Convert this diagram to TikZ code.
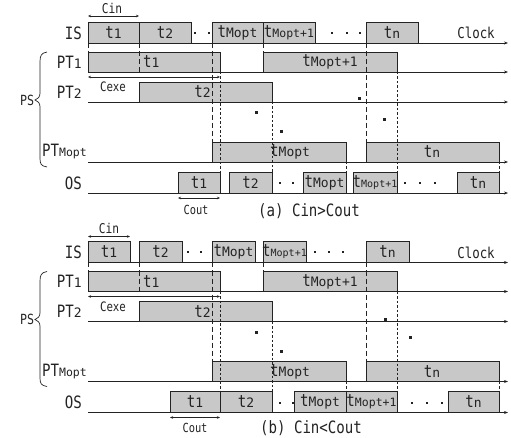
\documentclass[tikz,border=0pt]{standalone}
\usepackage{fontspec}
\setmainfont{DejaVu Sans Mono}[FakeStretch=0.83]
\newfontfamily\subfont{DejaVu Sans Mono}
\usetikzlibrary{arrows.meta}
\definecolor{boxgray}{RGB}{200,200,200}
\definecolor{ink}{RGB}{35,35,35}
\newcommand\fsz[1]{\fontsize{#1}{#1}\selectfont}
\newcommand\subt[1]{{\subfont\fsz{13pt}#1}}
\newcommand\subs[1]{{\subfont\fsz{10pt}#1}}
\newcommand\subm[1]{{\subfont\fsz{11.5pt}#1}}
\newcommand\bx[5]{\node[boxn, minimum width={(#3-#2)*1pt}, minimum height={(#5-#4)*1pt}] (#1) at ({(#2+#3)/2},{(#4+#5)/2}) {};}
\tikzset{
  boxn/.style={draw=ink, fill=boxgray, line width=0.8pt, inner sep=0pt, outer sep=0pt},
  btxt/.style={inner sep=0pt, font=\fsz{17pt}, text=ink},
  lab/.style={inner sep=0pt, font=\fsz{17pt}, text=ink},
  axisln/.style={draw=ink, line width=0.8pt, -{Stealth[length=4pt,width=3pt]}},
  ldash/.style={draw=ink, line width=0.7pt, dash pattern=on 5pt off 3pt},
  sdash/.style={draw=ink, line width=0.7pt, dash pattern=on 2.5pt off 2pt},
  dimln/.style={draw=ink, line width=0.6pt, {Stealth[length=3pt,width=2.5pt]}-{Stealth[length=3pt,width=2.5pt]}},
  dimtxt/.style={inner sep=0pt, font=\fsz{13.5pt}, text=ink},
  dotn/.style={fill=ink, draw=none, minimum size=2pt, inner sep=0pt},
  sq/.style={fill=ink, draw=none, minimum size=3pt, inner sep=0pt},
  captxt/.style={inner sep=0pt, font=\fsz{17pt}, text=ink},
  brace/.style={draw=ink, line width=0.7pt},
}
\begin{document}
\begin{tikzpicture}[x=1pt,y=-1pt]
\useasboundingbox (0,0) rectangle (511,438);
\foreach \P/\dy in {a/0,b/219.5}{
\begin{scope}[shift={(0,\dy)}]
  % row labels
  \node[lab, anchor=east] (\P-lis) at (82,33) {IS};
  \node[lab, anchor=east] (\P-lpt1) at (82,62) {PT\subt{1}};
  \node[lab, anchor=east] (\P-lpt2) at (82,92) {PT\subt{2}};
  \node[lab, anchor=east] (\P-lptm) at (87,152) {PT{\subfont\fsz{11.5pt}Mopt}};
  \node[lab, anchor=east] (\P-los) at (82,183) {OS};
  \node[inner sep=0pt, font=\fsz{14pt}, text=ink] (\P-lps) at (27,100) {PS};
  \draw[brace] (47,52) .. controls (41,53) and (40,56) .. (40,62) -- (40,93) .. controls (40,97) and (38,99) .. (35,100)
               .. controls (38,101) and (40,103) .. (40,107) -- (40,158) .. controls (40,164) and (41,166) .. (47,167);
  % axes
  \coordinate (\P-ais) at (88,43);  \coordinate (\P-aise) at (508,43);
  \coordinate (\P-apt1) at (88,72); \coordinate (\P-apt1e) at (508,72);
  \coordinate (\P-apt2) at (88,102); \coordinate (\P-apt2e) at (508,102);
  \coordinate (\P-aptm) at (88,162); \coordinate (\P-aptme) at (508,162);
  \coordinate (\P-aos) at (88,193); \coordinate (\P-aose) at (508,193);
  \draw[axisln] (\P-ais) -- (\P-aise);
  \draw[axisln] (\P-apt1) -- (\P-apt1e);
  \draw[axisln] (\P-apt2) -- (\P-apt2e);
  \draw[axisln] (\P-aptm) -- (\P-aptme);
  \draw[axisln] (\P-aos) -- (\P-aose);
  \node[inner sep=0pt, font=\fsz{15pt}, text=ink] (\P-clock) at (476,33) {Clock};
  % PT1 boxes
  \bx{\P-p11}{88}{220}{52}{72}
  \bx{\P-p12}{263}{397}{52}{72}
  % PT2 box
  \bx{\P-p21}{139}{272}{82}{102}
  % PTMopt boxes
  \bx{\P-pm1}{212}{346}{142}{162}
  \bx{\P-pm2}{366}{499}{142}{162}
  % Cexe
  \draw[dimln] (88,77) -- (220,77);
  \node[dimtxt, font=\fsz{13pt}] (\P-cexe) at (113,87) {Cexe};
  % dashed guides
  \draw[ldash] (88,43) -- (88,52);
  \draw[ldash] (139,43) -- (139,72);
  \draw[ldash] (212,43) -- (\P-pm1.north west);
  \draw[ldash] (263,43) -- (\P-p12.north west);
  \draw[ldash] (366,43) -- (\P-pm2.north west);
  \draw[sdash] (\P-p11.south east) -- (220,172);
  \draw[sdash] (\P-p21.south east) -- (272,172);
  \draw[sdash] (\P-pm1.south east) -- (346,172);
  \draw[sdash] (\P-p12.south east) -- (397,172);
  \draw[sdash] (\P-pm2.south east) -- (499,172);
  % texts
  \node[btxt, anchor=west] (\P-tp11) at (143,62) {t\subt{1}};
  \node[btxt] (\P-tp12) at (330,62) {t\subt{Mopt+1}};
  \node[btxt, anchor=east] (\P-tp21) at (211,92) {t\subt{2}};
  \node[btxt, anchor=west] (\P-tpm1) at (270,152) {t\subt{Mopt}};
  \node[btxt] (\P-tpm2) at (432,152) {t\subt{n}};
\end{scope}}
% ---------- panel (a) specific
\bx{a-is1}{88}{139}{22}{43}   \node[btxt] at (a-is1) {t\subt{1}};
\bx{a-is2}{139}{191}{22}{43}  \node[btxt] at (a-is2) {t\subt{2}};
\bx{a-is3}{212}{263}{22}{43}  \node[btxt] at (a-is3) {t\subt{Mopt}};
\bx{a-is4}{263}{315}{22}{43}  \node[btxt] at (a-is4) {t\subm{Mopt+1}};
\bx{a-is5}{366}{418}{22}{43}  \node[btxt] at (a-is5) {t\subt{n}};
\foreach \x in {195,209,332,347,360} \node[dotn] at (\x,33) {};
\draw[dimln] (88,16) -- (139,16);
\node[dimtxt] (a-cin) at (112,8) {Cin};
\bx{a-os1}{178}{220}{172}{193} \node[btxt] at (a-os1) {t\subt{1}};
\bx{a-os2}{229}{272}{172}{193} \node[btxt] at (a-os2) {t\subt{2}};
\bx{a-os3}{303}{346}{172}{193} \node[btxt] at (a-os3) {t\subt{Mopt}};
\bx{a-os4}{353}{397}{172}{193} \node[btxt] at (a-os4) {t\subs{Mopt+1}};
\bx{a-os5}{457}{499}{172}{193} \node[btxt] at (a-os5) {t\subt{n}};
\foreach \x in {280,293,405,420,435} \node[dotn] at (\x,183) {};
\draw[dimln] (178,198) -- (220,198);
\node[dimtxt, font=\fsz{12.5pt}] (a-cout) at (196,210) {Cout};
\node[captxt] (a-cap) at (309,211) {(a) Cin>Cout};
\foreach \x/\y in {256/113,281/132,359/99,384/120} \node[sq] at (\x,\y) {};
% ---------- panel (b) specific
\begin{scope}[shift={(0,219.5)}]
\bx{b-is1}{88}{130}{22}{43}   \node[btxt] at (b-is1) {t\subt{1}};
\bx{b-is2}{139}{182}{22}{43}  \node[btxt] at (b-is2) {t\subt{2}};
\bx{b-is3}{212}{255}{22}{43}  \node[btxt] at (b-is3) {t\subt{Mopt}};
\bx{b-is4}{263}{306}{22}{43}  \node[btxt] at (b-is4) {t\subs{Mopt+1}};
\bx{b-is5}{366}{409}{22}{43}  \node[btxt] at (b-is5) {t\subt{n}};
\foreach \x in {188,201,315,329,343} \node[dotn] at (\x,33) {};
\draw[dimln] (88,17) -- (130,17);
\node[dimtxt] (b-cin) at (109,9) {Cin};
\bx{b-os1}{170}{220}{172}{193} \node[btxt] at (b-os1) {t\subt{1}};
\bx{b-os2}{220}{272}{172}{193} \node[btxt] at (b-os2) {t\subt{2}};
\bx{b-os3}{294}{346}{172}{193} \node[btxt] at (b-os3) {t\subt{Mopt}};
\bx{b-os4}{346}{397}{172}{193} \node[btxt] at (b-os4) {t\subm{Mopt+1}};
\bx{b-os5}{448}{499}{172}{193} \node[btxt] at (b-os5) {t\subt{n}};
\foreach \x in {280,293,412,427,442} \node[dotn] at (\x,183) {};
\draw[dimln] (170,198) -- (220,198);
\node[dimtxt, font=\fsz{12.5pt}] (b-cout) at (195,208) {Cout};
\node[captxt] (b-cap) at (311,209) {(b) Cin<Cout};
\foreach \x/\y in {256/112.5,281/131.5,385/99.5,410/117.5} \node[sq] at (\x,\y) {};
\end{scope}
\end{tikzpicture}
\end{document}
